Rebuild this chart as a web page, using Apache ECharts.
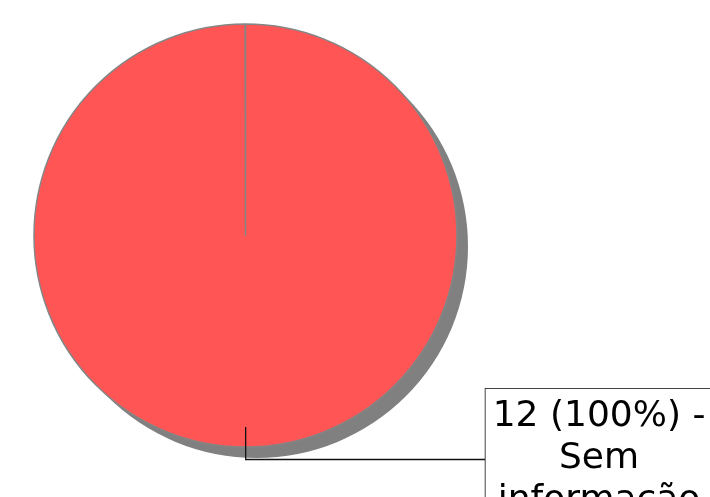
<!DOCTYPE html>
<html>
<head>
<meta charset="utf-8">
<script src="https://cdn.jsdelivr.net/npm/echarts@6/dist/echarts.min.js"></script>
<style>html,body{margin:0;padding:0;background:#fff;}#c{width:710px;height:497px;}</style>
</head>
<body>
<div id="c"></div>
<script>
var categories = ['Sem informação'];
var values = [12];

var chart = echarts.init(document.getElementById('c'), null, {renderer: 'canvas'});
var data = categories.map(function (n, i) { return {name: n, value: values[i]}; });
var cx = 245.5, cy = 235.5, R = 211.5, SH = 11, L1 = 12.5, INSET = 20;
chart.setOption({
  backgroundColor: '#ffffff',
  animation: false,
  series: [{
    // drop shadow
    type: 'pie',
    silent: true,
    z: 1,
    center: [cx + SH, cy + SH],
    radius: R,
    startAngle: 90,
    data: data,
    itemStyle: {color: '#808080', borderWidth: 0},
    label: {show: false},
    labelLine: {show: false},
    emphasis: {disabled: true}
  }, {
    // the slice itself
    type: 'pie',
    z: 2,
    silent: true,
    center: [cx, cy],
    radius: R,
    startAngle: 90,
    endAngle: 90 - 359.9,
    clockwise: true,
    data: data,
    itemStyle: {
      color: '#FF5555',
      borderColor: '#858585',
      borderWidth: 1.5
    },
    label: {show: false},
    labelLine: {show: false},
    emphasis: {disabled: true}
  }, {
    // label carrier (transparent), so the leader starts inside the slice
    type: 'pie',
    z: 3,
    silent: true,
    center: [cx, cy],
    radius: R - INSET,
    startAngle: 90,
    endAngle: 90 - 359.9,
    clockwise: true,
    avoidLabelOverlap: false,
    data: data,
    itemStyle: {color: 'rgba(0,0,0,0)', borderWidth: 0},
    label: {
      show: true,
      position: 'outside',
      distanceToLabelLine: 0,
      formatter: function (p) {
        var parts = p.name.split(' ');
        var lines = [p.value + ' (' + Math.round(p.percent) + '%) -'].concat(parts);
        return lines.map(function (l) { return '{c|' + l + '}'; }).join('\n');
      },
      backgroundColor: '#ffffff',
      borderColor: '#444444',
      borderWidth: 1,
      padding: [6.5, 7, 8.5, 7],
      rich: {
        c: {
          fontFamily: 'DejaVu Sans',
          fontSize: 36,
          lineHeight: 42,
          color: '#000000',
          align: 'center'
        }
      }
    },
    labelLine: {
      show: true,
      showAbove: true,
      length: L1 + INSET,
      length2: 240,
      lineStyle: {color: '#111111', width: 1.3}
    },
    emphasis: {disabled: true}
  }]
});
</script>
</body>
</html>
